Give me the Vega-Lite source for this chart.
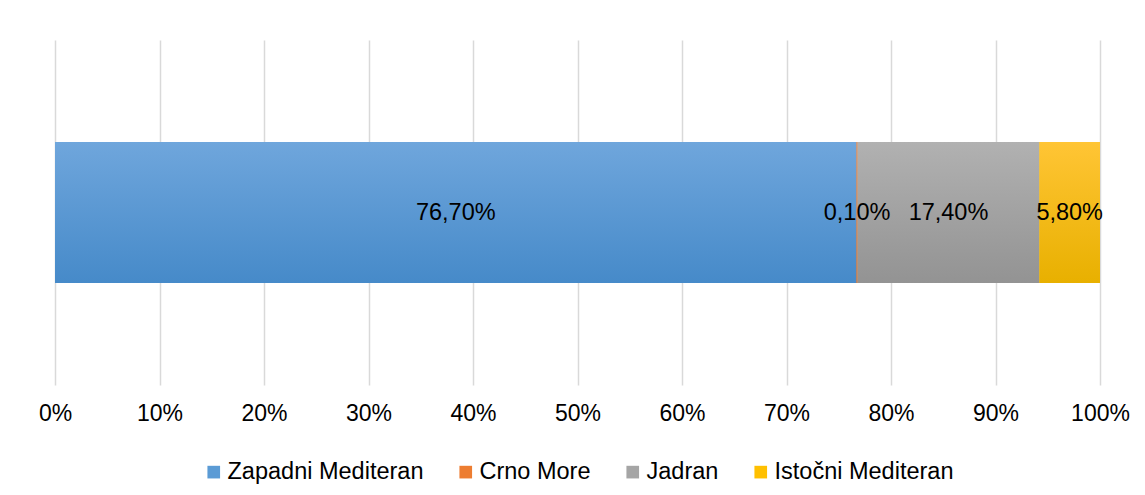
{
  "$schema": "https://vega.github.io/schema/vega-lite/v6.json",
  "width": 1045,
  "height": 345,
  "autosize": {"type": "none"},
  "padding": {"left": 55, "top": 40, "right": 45, "bottom": 110},
  "background": "white",
  "config": {
    "view": {"stroke": null},
    "font": "Liberation Sans",
    "legend": {"layout": {"bottom": {"anchor": "middle"}}},
    "locale": {"number": {"decimal": ",", "thousands": ".", "grouping": [3], "currency": ["", " €"]}}
  },
  "data": {
    "values": [
      {"kategorija": "Udio", "regija": "Zapadni Mediteran", "udio": 0.767, "redoslijed": 1},
      {"kategorija": "Udio", "regija": "Crno More", "udio": 0.001, "redoslijed": 2},
      {"kategorija": "Udio", "regija": "Jadran", "udio": 0.174, "redoslijed": 3},
      {"kategorija": "Udio", "regija": "Istočni Mediteran", "udio": 0.058, "redoslijed": 4}
    ]
  },
  "transform": [
    {"stack": "udio", "groupby": ["kategorija"], "sort": [{"field": "redoslijed", "order": "ascending"}], "as": ["s0", "s1"]},
    {"calculate": "(datum.s0 + datum.s1) / 2", "as": "sredina"}
  ],
  "encoding": {
    "y": {"field": "kategorija", "type": "nominal", "axis": null, "scale": {"paddingInner": 0, "paddingOuter": 0.723}}
  },
  "layer": [
    {
      "mark": {"type": "bar"},
      "encoding": {
        "x": {
          "field": "s0", "type": "quantitative",
          "scale": {"domain": [0, 1], "nice": false},
          "axis": {
            "title": null, "format": "%", "values": [0, 0.1, 0.2, 0.3, 0.4, 0.5, 0.6, 0.7, 0.8, 0.9, 1],
            "domain": false, "ticks": false, "grid": true, "gridColor": "#d9d9d9", "gridWidth": 1.5,
            "labelFontSize": 23, "labelColor": "#000000", "labelPadding": 17, "labelFont": "Liberation Sans",
            "labelFlush": false
          }
        },
        "x2": {"field": "s1"},
        "color": {
          "field": "regija", "type": "nominal",
          "scale": {
            "domain": ["Zapadni Mediteran", "Crno More", "Jadran", "Istočni Mediteran"],
            "range": ["#5b9bd5", "#ed7d31", "#a5a5a5", "#ffc000"]
          },
          "legend": {
            "title": null, "orient": "bottom", "direction": "horizontal",
            "symbolType": "square", "symbolSize": 160, "symbolStrokeWidth": 0,
            "labelFontSize": 23.5, "labelColor": "#000000", "labelFont": "Liberation Sans",
            "labelLimit": 0, "labelOffset": 2, "columnPadding": 30, "offset": 35
          }
        }
      }
    },
    {
      "mark": {"type": "bar"},
      "encoding": {
        "x": {"field": "s0", "type": "quantitative"},
        "x2": {"field": "s1"},
        "fill": {
          "condition": [
            {"test": "datum.regija === 'Zapadni Mediteran'", "value": {"gradient": "linear", "x1": 0, "y1": 0, "x2": 0, "y2": 1, "stops": [{"offset": 0, "color": "#6fa6dc"}, {"offset": 1, "color": "#468ac9"}]}},
            {"test": "datum.regija === 'Crno More'", "value": {"gradient": "linear", "x1": 0, "y1": 0, "x2": 0, "y2": 1, "stops": [{"offset": 0, "color": "#f28b4a"}, {"offset": 1, "color": "#df6b1d"}]}},
            {"test": "datum.regija === 'Jadran'", "value": {"gradient": "linear", "x1": 0, "y1": 0, "x2": 0, "y2": 1, "stops": [{"offset": 0, "color": "#b1b1b1"}, {"offset": 1, "color": "#939393"}]}}
          ],
          "value": {"gradient": "linear", "x1": 0, "y1": 0, "x2": 0, "y2": 1, "stops": [{"offset": 0, "color": "#ffc535"}, {"offset": 1, "color": "#e8b000"}]}
        }
      }
    },
    {
      "mark": {"type": "text", "fontSize": 23.5, "color": "#000000", "font": "Liberation Sans", "align": "center", "baseline": "middle"},
      "encoding": {
        "x": {"field": "sredina", "type": "quantitative"},
        "text": {"field": "udio", "type": "quantitative", "format": ".2%"}
      }
    }
  ]
}
